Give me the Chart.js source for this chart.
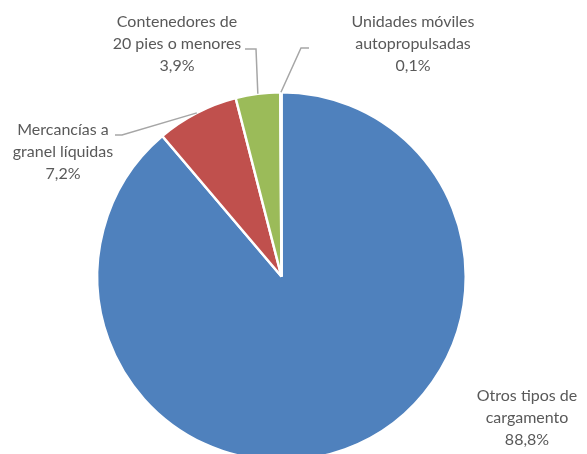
<!DOCTYPE html>
<html>
<head>
<meta charset="utf-8">
<script src="https://cdn.jsdelivr.net/npm/chart.js@4"></script>
<style>
  html, body { margin: 0; padding: 0; background: #fff; overflow: hidden; }
  #wrap { position: relative; width: 587px; height: 480px; }
</style>
</head>
<body>
<div id="wrap"><canvas id="pieChart"></canvas></div>
<script>
// datos del gráfico
const labels = [
  "Otros tipos de cargamento",
  "Mercancías a granel líquidas",
  "Contenedores de 20 pies o menores",
  "Unidades móviles autopropulsadas",
];
const values = [88.8, 7.2, 3.9, 0.1];
const colors = ["#4F81BD", "#C0504D", "#9BBB59", "#8064A2"];

// texto de cada etiqueta, en líneas
const labelLines = [
  ["Otros tipos de", "cargamento"],
  ["Mercancías a", "granel líquidas"],
  ["Contenedores de", "20 pies o menores"],
  ["Unidades móviles", "autopropulsadas"],
];

// posición de las etiquetas (centro de la primera línea) y codo de la línea guía
const labelPos = [
  { x: 527, y: 396, elbow: null },
  { x: 63, y: 130, elbow: [122, 135], end: [115, 135] },
  { x: 177, y: 22, elbow: [256, 49], end: [245, 49] },
  { x: 413, y: 22, elbow: [301, 48], end: [309, 48] },
];

const fmt = (v) => v.toFixed(1).replace(".", ",") + "%";

const pieLabels = {
  id: "pieLabels",
  afterDatasetsDraw(chart) {
    const ctx = chart.ctx;
    const arcs = chart.getDatasetMeta(0).data;
    ctx.save();
    // líneas guía
    ctx.strokeStyle = "#A6A6A6";
    ctx.lineWidth = 1.5;
    arcs.forEach((arc, i) => {
      const p = labelPos[i];
      if (!p.elbow) return;
      const mid = (arc.startAngle + arc.endAngle) / 2;
      const sx = arc.x + Math.cos(mid) * arc.outerRadius;
      const sy = arc.y + Math.sin(mid) * arc.outerRadius;
      ctx.beginPath();
      ctx.moveTo(sx, sy);
      ctx.lineTo(p.elbow[0], p.elbow[1]);
      ctx.lineTo(p.end[0], p.end[1]);
      ctx.stroke();
    });
    // textos
    ctx.fillStyle = "#595959";
    ctx.font = "16px Lato, 'Open Sans', sans-serif";
    ctx.textAlign = "center";
    ctx.textBaseline = "middle";
    arcs.forEach((arc, i) => {
      const p = labelPos[i];
      const lines = labelLines[i].concat([fmt(values[i])]);
      lines.forEach((t, k) => ctx.fillText(t, p.x, p.y + k * 22));
    });
    ctx.restore();
  },
};

new Chart(document.getElementById("pieChart"), {
  type: "pie",
  data: {
    labels: labels,
    datasets: [
      {
        data: values,
        backgroundColor: colors,
        borderColor: "#ffffff",
        borderWidth: 2.5,
      },
    ],
  },
  options: {
    responsive: true,
    maintainAspectRatio: false,
    animation: false,
    layout: {
      padding: { top: 91, left: 96, right: 120, bottom: 18 },
    },
    plugins: {
      legend: { display: false },
      tooltip: { enabled: false },
    },
  },
  plugins: [pieLabels],
});
</script>
</body>
</html>
